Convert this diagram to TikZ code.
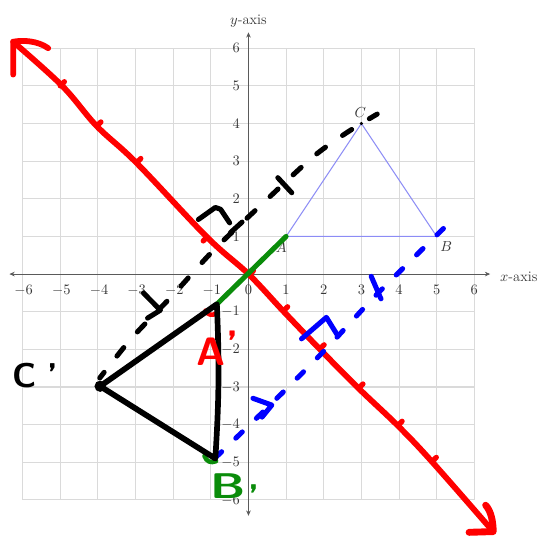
\documentclass[tikz,border=0pt]{standalone}
\usepackage{fontspec}
\usetikzlibrary{arrows.meta}
\definecolor{gridgray}{RGB}{218,218,218}
\definecolor{axisgray}{RGB}{90,90,90}
\definecolor{labelgray}{RGB}{55,55,55}
\definecolor{lav}{RGB}{140,140,245}
\definecolor{penred}{RGB}{255,0,0}
\definecolor{pengreen}{RGB}{10,140,10}
\definecolor{penblue}{RGB}{0,0,255}
\begin{document}
\begin{tikzpicture}[x=1cm,y=1cm,
  gridline/.style={draw=gridgray, line width=0.8pt},
  axisline/.style={draw=axisgray, line width=0.6pt, {Stealth[length=4pt,width=3.5pt]}-{Stealth[length=4pt,width=3.5pt]}},
  ticklbl/.style={font=\fontsize{11}{12}\selectfont, text=labelgray, inner sep=0pt},
  ptlbl/.style={font=\fontsize{11}{12}\selectfont, text=labelgray, inner sep=0pt},
  tri/.style={draw=lav, line width=0.8pt},
  hand/.style={line width=4pt, line cap=round, line join=round},
  redpen/.style={hand, draw=penred},
  greenpen/.style={hand, draw=pengreen},
  bluepen/.style={hand, draw=penblue, line width=3.8pt},
  blackpen/.style={hand, draw=black},
  bluedash/.style={bluepen, dash pattern=on 0.24cm off 0.52cm, dash phase=0.05cm},
  blackdash/.style={blackpen, line width=3.8pt, dash pattern=on 0.29cm off 0.55cm, dash phase=0.1cm},
  handtxt/.style={font=\sffamily\bfseries, inner sep=0pt, anchor=base west}
]
\useasboundingbox (-6.6,-6.98) rectangle (7.85,7.28);

% grid
\draw[gridline] (-6,-6) grid (6,6);

% axes
\coordinate (xl) at (-6.35,0);
\coordinate (xr) at (6.42,0);
\coordinate (yt) at (0,6.42);
\coordinate (yb) at (0,-6.42);
\draw[axisline] (xl) -- (xr);
\draw[axisline] (yb) -- (yt);
\node[ptlbl, anchor=west] (xlab) at (6.68,-0.06) {$x$-axis};
\node[ptlbl] (ylab) at (0,6.72) {$y$-axis};

% tick labels
\foreach \x in {-6,...,-1} \node[ticklbl] (xt\x) at (\x+0.03,-0.43) {$\x$};
\foreach \x in {0,...,6} \node[ticklbl] (xt\x) at (\x,-0.43) {$\x$};
\foreach \y in {-6,...,-1,1,2,3,4,5,6} \node[ticklbl, anchor=east] (yt\y) at (-0.22,\y) {$\y$};

% triangle ABC
\coordinate (A) at (1,1);
\coordinate (B) at (5,1);
\coordinate (C) at (3,4);
\draw[tri] (A) -- (B) -- (C) -- cycle;
\fill (C) circle (1.3pt);
\node[ptlbl] (lA) at (0.87,0.71) {$A$};
\node[ptlbl] (lB) at (5.25,0.73) {$B$};
\node[ptlbl] (lC) at (2.97,4.29) {$C$};

% image vertices
\coordinate (Ap) at (-0.84,-0.8);
\coordinate (Bp) at (-0.88,-4.9);
\coordinate (Cp) at (-3.94,-2.98);

% red reflection line y=-x
\draw[redpen, line width=4.4pt] plot[smooth, tension=0.6] coordinates {(-6.25,6.17) (-4.95,5.0) (-4.03,3.93) (-2.97,2.95) (-1.1,0.98) (0,0) (0.93,-0.99) (1.9,-2.0) (2.93,-3.04) (3.97,-4.03) (4.88,-4.99) (6.5,-6.84)};
\draw[redpen, line width=4.4pt] (-5.32,6.0) .. controls (-5.6,6.2) and (-6.0,6.22) .. (-6.25,6.17) -- (-6.25,5.3);
\draw[redpen, line width=5.2pt] (6.3,-6.14) .. controls (6.45,-6.3) and (6.5,-6.6) .. (6.5,-6.84) -- (5.86,-6.86);
\foreach \p in {(-5,5),(-4.03,3.93),(-2.97,2.96),(0.02,-0.02),(0.93,-0.98),(1.9,-1.99),(2.93,-3.03),(3.97,-4.02),(4.88,-4.98)}
  \draw[redpen, line width=4pt] \p -- ++(0.11,0.11);
\draw[redpen, line width=4pt] (-1.1,0.98) -- ++(-0.1,-0.1);

% red and green marks at image vertices
\draw[redpen, line width=3.4pt] (-1.14,-0.97) .. controls (-1.1,-1.08) and (-0.95,-1.12) .. (-0.86,-1.04);
\draw[greenpen, line width=3.4pt] (-1.17,-4.83) .. controls (-1.12,-4.98) and (-1.0,-5.03) .. (-0.86,-4.97);

% dashed connectors
\draw[blackdash] plot[smooth, tension=0.5] coordinates {(-3.95,-2.76) (-3.1,-1.7) (-2.03,-0.58) (-0.93,0.63) (0.33,1.83) (1.7,3.1) (2.6,3.75) (3.42,4.25)};
\draw[bluedash] plot[smooth, tension=0.5] coordinates {(-0.85,-4.85) (0.5,-3.55) (2.0,-2.05) (3.4,-0.55) (5.22,1.25)};

% black marks
\draw[blackpen, line width=3.8pt] (-2.79,-0.5) -- (-2.34,-0.96) -- (-2.68,-1.17);
\draw[blackpen, line width=3.8pt] (0.78,2.56) -- (1.15,2.16);
\draw[blackpen, line width=3.8pt] (-1.33,1.45) -- (-0.88,1.77) -- (-0.74,1.72) -- (-0.5,1.36);
\draw[blackpen, line width=3.8pt] (-0.48,1.1) -- (-0.17,1.38);

% blue marks
\draw[bluepen] (0.12,-3.3) -- (0.62,-3.48) -- (0.36,-3.8);
\draw[bluepen] (1.41,-1.72) -- (2.07,-1.15) -- (2.38,-1.65);
\draw[bluepen] (3.26,-0.06) -- (3.52,-0.66);

% green segment A -> A'
\draw[greenpen, line width=3.8pt] (A) -- (Ap);

% image triangle
\draw[blackpen, line width=4.3pt] (Cp) -- (Ap) to[bend left=3] (Bp) -- cycle;
\fill (Cp) circle (0.15);

% handwritten labels
\node[handtxt, text=black, font=\sffamily\bfseries\fontsize{26}{26}\selectfont] (hC) at (-6.28,-3.01) {C\kern8pt'};
\node[handtxt, text=penred, font=\sffamily\bfseries\fontsize{30}{30}\selectfont] (hA) at (-1.4,-2.42) {A\kern1pt\raisebox{5pt}{'}};
\node[handtxt, text=pengreen, font=\sffamily\bfseries\fontsize{27}{27}\selectfont] (hB) at (-1.02,-5.95) {\scalebox{1.35}[1]{B}\kern2pt\raisebox{-9pt}{'}};
\end{tikzpicture}
\end{document}
